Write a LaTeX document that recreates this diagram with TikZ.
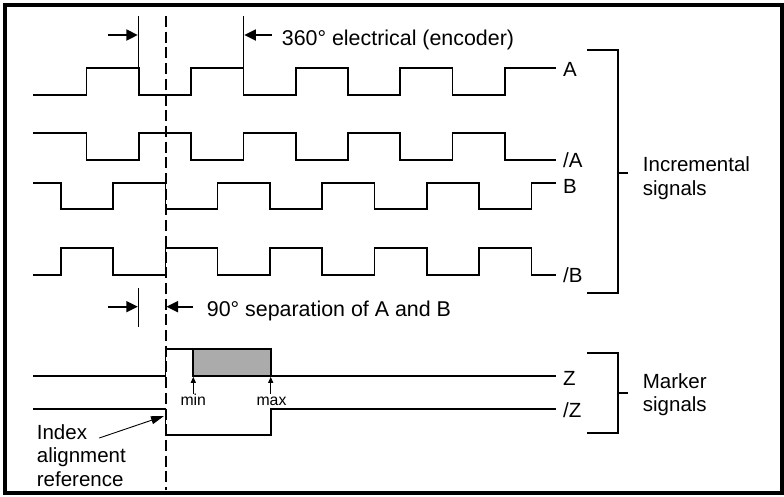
\documentclass[tikz,border=0pt]{standalone}
\usepackage{fontspec}
\setmainfont{Liberation Sans}
\usetikzlibrary{arrows.meta}
\begin{document}
\begin{tikzpicture}[x=1pt,y=-1pt,
  sig/.style={line width=1.7pt, line join=miter},
  dimline/.style={line width=0.9pt},
  bigarrow/.style={line width=1.8pt,-{Triangle[length=11.5pt,width=11pt]}},
  thinarrow/.style={line width=0.9pt,-{Triangle[length=13pt,width=8pt]}},
  tinyarrow/.style={line width=1.2pt,-{Triangle[length=6pt,width=5pt]}},
  lbl/.style={anchor=base west, inner sep=0pt, font=\fontsize{20.5}{24}\selectfont},
  dimlbl/.style={anchor=base west, inner sep=0pt, font=\fontsize{21.4}{25}\selectfont},
  small/.style={anchor=base, inner sep=0pt, font=\fontsize{15.8}{18}\selectfont},
  brk/.style={line width=1.8pt},
  shade/.style={fill=black!33, draw=black, line width=1.7pt}]
\useasboundingbox (0,0) rectangle (784,496);
\draw[line width=4pt] (4.8,4.8) rectangle (782,492.6);

% dashed reference line
\draw[line width=2pt, dash pattern=on 11pt off 4.7pt] (165.5,16) -- (165.5,490);

% A
\draw[sig] (33,95) -| (86.5,68) -| (138.8,95) -| (191.1,68) -| (243.4,95) -| (295.7,68)
  -| (348,95) -| (400.3,68) -| (452.6,95) -| (504.9,68) -- (556,68);
% /A
\draw[sig] (33,133) -| (86.5,160) -| (138.8,133) -| (191.1,160) -| (243.4,133) -| (295.7,160)
  -| (348,133) -| (400.3,160) -| (452.6,133) -| (504.9,160) -- (556,160);
% B
\draw[sig] (33,182.7) -| (60.7,209.3) -| (113,182.7) -| (165.5,209.3) -| (217.6,182.7)
  -| (269.9,209.3) -| (322.2,182.7) -| (374.5,209.3) -| (426.8,182.7) -| (479.1,209.3)
  -| (531.4,182.7) -- (556,182.7);
% /B
\draw[sig] (33,275) -| (60.7,247.7) -| (113,275) -| (165.5,247.7) -| (217.6,275)
  -| (269.9,247.7) -| (322.2,275) -| (374.5,247.7) -| (426.8,275) -| (479.1,247.7)
  -| (531.4,275) -- (556,275);
% Z
\draw[shade] (193.3,349.3) rectangle (270.7,376);
\draw[sig] (33,376) -| (165.5,349.3) -| (270.7,376) -- (556,376);
% /Z
\draw[sig] (33,409.3) -| (165.5,435) -| (270.7,409.3) -- (556,409.3);

% signal labels
\node[lbl] (la)  at (563,76)  {A};
\node[lbl] (lna) at (563,167) {/A};
\node[lbl] (lb)  at (563,193) {B};
\node[lbl] (lnb) at (563,282) {/B};
\node[lbl] (lz)  at (563,385) {Z};
\node[lbl] (lnz) at (563,417) {/Z};

% 360 dimension
\coordinate (d1t) at (138.8,16);
\coordinate (d1b) at (138.8,68);
\coordinate (d2t) at (243.4,16);
\coordinate (d2b) at (243.4,68);
\draw[dimline] (d1t) -- (d1b);
\draw[dimline] (d2t) -- (d2b);
\coordinate (a1s) at (108,35);
\coordinate (a1e) at (137.8,35);
\coordinate (a2s) at (271.5,35);
\coordinate (a2e) at (244.4,35);
\draw[bigarrow] (a1s) -- (a1e);
\draw[bigarrow] (a2s) -- (a2e);
\node[dimlbl] (t360) at (281.7,45.5) {360° electrical (encoder)};

% 90 dimension
\coordinate (d3t) at (138.8,288);
\coordinate (d3b) at (138.8,327);
\draw[dimline] (d3t) -- (d3b);
\coordinate (b1s) at (108,306.7);
\coordinate (b1e) at (137.8,306.7);
\coordinate (b2s) at (193,306.7);
\coordinate (b2e) at (166.5,306.7);
\draw[bigarrow] (b1s) -- (b1e);
\draw[bigarrow] (b2s) -- (b2e);
\node[dimlbl] (t90) at (206.7,316.5) {90° separation of A and B};

% min / max
\node[small] (tmin) at (193.3,405) {min};
\node[small] (tmax) at (271.5,405) {max};
\coordinate (minbot) at (193.3,393.5);
\coordinate (mintip) at (193.3,376.8);
\coordinate (maxbot) at (270.7,393.5);
\coordinate (maxtip) at (270.7,376.8);
\draw[tinyarrow] (minbot) -- (mintip);
\draw[tinyarrow] (maxbot) -- (maxtip);

% index alignment reference
\node[lbl] (idx1) at (36.7,439) {Index};
\node[lbl] (idx2) at (36.7,462) {alignment};
\node[lbl] (idx3) at (36.7,486.5) {reference};
\coordinate (idxtip) at (164,416);
\draw[thinarrow] ([xshift=12pt,yshift=1pt]idx1.base east) -- (idxtip);

% brackets
\draw[brk] (587,50) -- (618,50) -- (618,293) -- (587,293);
\draw[brk] (618,173) -- (628,173);
\draw[brk] (587,353) -- (618,353) -- (618,433) -- (587,433);
\draw[brk] (618,393) -- (628,393);
\node[lbl] (inc1) at (642.7,171.5) {Incremental};
\node[lbl] (inc2) at (642.7,195) {signals};
\node[lbl] (mk1) at (642.7,388.3) {Marker};
\node[lbl] (mk2) at (642.7,411) {signals};
\end{tikzpicture}
\end{document}
